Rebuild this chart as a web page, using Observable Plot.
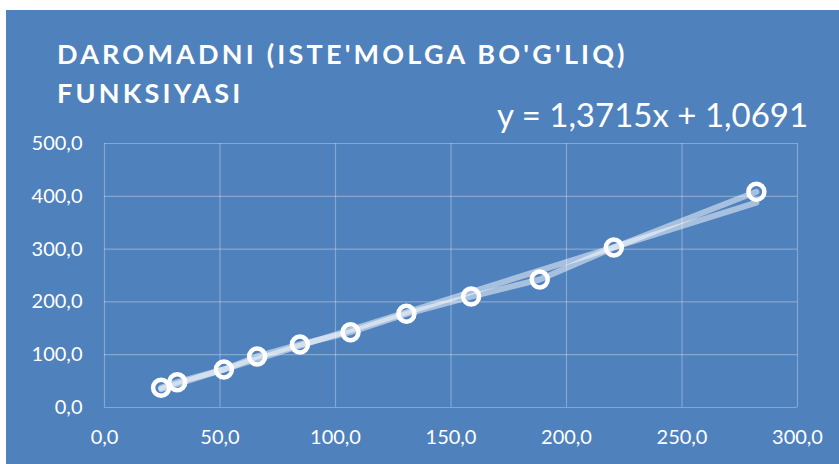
<!DOCTYPE html>
<html>
<head>
<meta charset="utf-8">
<script src="https://cdn.jsdelivr.net/npm/d3@7"></script>
<script src="https://cdn.jsdelivr.net/npm/@observablehq/plot@0.6"></script>
<style>
  html, body { margin: 0; padding: 0; background: #ffffff; }
  #wrap { position: absolute; left: 6px; top: 10px; width: 833px; height: 454px; background: #4F81BD; overflow: hidden; }
  #title { position: absolute; left: 51px; top: 24px; color: #fff; font-family: Lato, sans-serif; font-weight: 700; font-size: 27px; letter-spacing: 3.2px; line-height: 39px; white-space: nowrap; }
  #eq { position: absolute; left: 491px; top: 84px; color: #fff; font-family: Lato, sans-serif; font-size: 33px; white-space: nowrap; }
  #chart { position: absolute; left: 0; top: 0; }
</style>
</head>
<body>
<div id="wrap">
  <div id="chart"></div>
  <div id="title">DAROMADNI (ISTE'MOLGA BO'G'LIQ)<br>FUNKSIYASI</div>
  <div id="eq">y = 1,3715x + 1,0691</div>
</div>
<script>
// Data
const consumption = [24.5, 31.5, 51.7, 66.1, 84.6, 106.5, 130.7, 158.7, 188.4, 220.5, 282.2];
const income      = [37.3, 47.9, 72.0, 96.6, 119.3, 142.6, 177.5, 210.0, 242.4, 303.0, 408.5];
const xTicks = [0, 50, 100, 150, 200, 250, 300];
const yTicks = [0, 100, 200, 300, 400, 500];
const trendSlope = 1.3715;
const trendIntercept = 1.0691;

const points = consumption.map((x, i) => ({x, y: income[i]}));
const xMin = d3.min(consumption), xMax = d3.max(consumption);
const trend = [xMin, xMax].map(x => ({x, y: trendSlope * x + trendIntercept}));
const fmt = v => d3.format(".1f")(v).replace(".", ",");

const chart = Plot.plot({
  width: 833,
  height: 454,
  marginLeft: 98,
  marginRight: 42,
  marginTop: 133,
  marginBottom: 57,
  style: { background: "transparent", color: "#ffffff", fontFamily: "Lato, sans-serif", fontSize: "20px" },
  x: { domain: [0, 300], ticks: xTicks, tickFormat: fmt, tickSize: 0, tickPadding: 22, label: null },
  y: { domain: [0, 500], ticks: yTicks, tickFormat: fmt, tickSize: 0, tickPadding: 22, label: null },
  marks: [
    Plot.gridX(xTicks, { stroke: "#ffffff", strokeOpacity: 0.3, strokeWidth: 1.2 }),
    Plot.gridY(yTicks, { stroke: "#ffffff", strokeOpacity: 0.3, strokeWidth: 1.2 }),
    Plot.line(trend, { x: "x", y: "y", stroke: "#ffffff", strokeOpacity: 0.5, strokeWidth: 6 }),
    Plot.line(points, { x: "x", y: "y", stroke: "#ffffff", strokeOpacity: 0.5, strokeWidth: 6 }),
    Plot.dot(points, { x: "x", y: "y", r: 8, stroke: "#ffffff", strokeWidth: 4.5, fill: "none" })
  ]
});
document.getElementById("chart").appendChild(chart);
</script>
</body>
</html>
